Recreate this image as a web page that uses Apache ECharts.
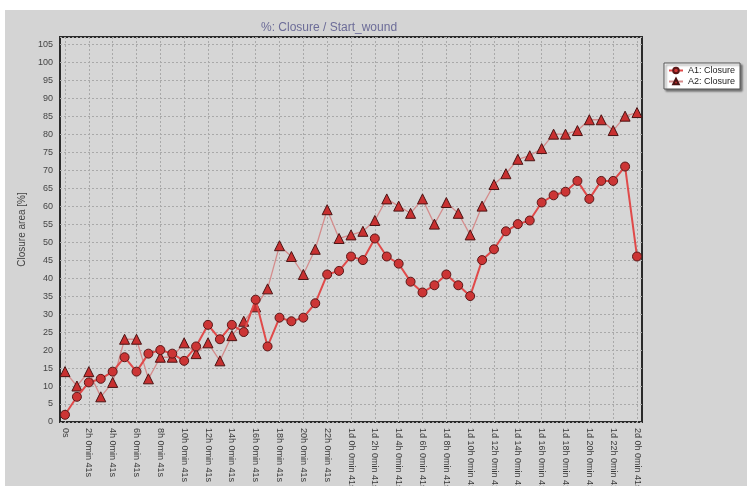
<!DOCTYPE html>
<html>
<head>
<meta charset="utf-8">
<script src="https://cdn.jsdelivr.net/npm/echarts@6/dist/echarts.min.js"></script>
<style>html,body{margin:0;padding:0;background:#fff}#c{width:747px;height:486px}</style>
</head>
<body>
<div id="c"></div>
<script>
const categories = [
  "0s","1h 0min 41s","2h 0min 41s","3h 0min 41s","4h 0min 41s","5h 0min 41s","6h 0min 41s","7h 0min 41s",
  "8h 0min 41s","9h 0min 41s","10h 0min 41s","11h 0min 41s","12h 0min 41s","13h 0min 41s","14h 0min 41s",
  "15h 0min 41s","16h 0min 41s","17h 0min 41s","18h 0min 41s","19h 0min 41s","20h 0min 41s","21h 0min 41s",
  "22h 0min 41s","23h 0min 41s","1d 0h 0min 41s","1d 1h 0min 41s","1d 2h 0min 41s","1d 3h 0min 41s",
  "1d 4h 0min 41s","1d 5h 0min 41s","1d 6h 0min 41s","1d 7h 0min 41s","1d 8h 0min 41s","1d 9h 0min 41s",
  "1d 10h 0min 41s","1d 11h 0min 41s","1d 12h 0min 41s","1d 13h 0min 41s","1d 14h 0min 41s","1d 15h 0min 41s",
  "1d 16h 0min 41s","1d 17h 0min 41s","1d 18h 0min 41s","1d 19h 0min 41s","1d 20h 0min 41s","1d 21h 0min 41s",
  "1d 22h 0min 41s","1d 23h 0min 41s","2d 0h 0min 41s"
];
const seriesA1 = [2,7,11,12,14,18,14,19,20,19,17,21,27,23,27,25,34,21,29,28,29,33,41,42,46,45,51,46,44,39,36,38,41,38,35,45,48,53,55,56,61,63,64,67,62,67,67,71,46];
const seriesA2 = [14,10,14,7,11,23,23,12,18,18,22,19,22,17,24,28,32,37,49,46,41,48,59,51,52,53,56,62,60,58,62,55,61,58,52,60,66,69,73,74,76,80,80,81,84,84,81,85,86];
const seriesNames = ["A1: Closure","A2: Closure"];
const titleText = "%: Closure / Start_wound";
const yAxisName = "Closure area [%]";

const FONT = "Liberation Sans, Arial, sans-serif";
const chart = echarts.init(document.getElementById('c'), null, {renderer:'canvas'});
const gridLine = {show:true, lineStyle:{color:'#a9a9a9', type:[2,2], width:1}};
chart.setOption({
  backgroundColor:'#d4d4d4',
  animation:false,
  textStyle:{fontFamily:FONT},
  graphic:[
    {type:'rect', shape:{x:0,y:0,width:747,height:10}, style:{fill:'#ffffff'}, silent:true},
    {type:'rect', shape:{x:0,y:0,width:5,height:486}, style:{fill:'#ffffff'}, silent:true}
  ],
  title:{
    text:titleText, left:256, top:17,
    textStyle:{fontSize:12, fontWeight:'normal', color:'#6c6c98', fontFamily:FONT}
  },
  legend:{
    orient:'vertical', left:664, top:63,
    data:seriesNames,
    backgroundColor:'#ffffff', borderColor:'#555', borderWidth:1,
    padding:[3,5,3,4], itemGap:2, itemWidth:14, itemHeight:7,
    shadowColor:'rgba(0,0,0,0.45)', shadowOffsetX:2, shadowOffsetY:2, shadowBlur:2,
    textStyle:{fontSize:9, color:'#222', fontFamily:FONT}
  },
  grid:[
    {left:60, top:37, width:582, height:385, show:true, backgroundColor:'#d6d6d6', borderColor:'#2a2a2a', borderWidth:2,
     containLabel:false, outerBoundsMode:'none'},
    {left:65, top:37, width:572, height:385, containLabel:false, outerBoundsMode:'none'}
  ],
  xAxis:[
    {gridIndex:0, type:'value', min:0, max:1, show:false},
    {gridIndex:1, type:'category', data:categories, boundaryGap:false,
     axisLine:{show:false}, axisTick:{show:false},
     axisLabel:{interval:1, rotate:-90, fontSize:9, color:'#3a3a3a', margin:6, fontFamily:FONT},
     splitLine:{show:true, interval:1, lineStyle:{color:'#a9a9a9', type:[2,2], width:1}}}
  ],
  yAxis:[
    {gridIndex:0, type:'value', min:0, max:107, interval:5,
     name:yAxisName, nameLocation:'middle', nameGap:22, nameRotate:90,
     nameTextStyle:{fontSize:10, color:'#444', fontFamily:FONT},
     axisLine:{show:false}, axisTick:{show:false},
     axisLabel:{fontSize:9, color:'#444', margin:7, fontFamily:FONT,
       formatter:function(v){return (v % 5 === 0) ? String(v) : '';}},
     splitLine:gridLine},
    {gridIndex:1, type:'value', min:0, max:107, show:false, splitLine:{show:false}}
  ],
  series:[
    {name:seriesNames[0], type:'line', xAxisIndex:1, yAxisIndex:1, data:seriesA1,
     symbol:'circle', symbolSize:9, showSymbol:true, showAllSymbol:true,
     lineStyle:{color:'#e04a4a', width:2},
     itemStyle:{color:'#cc3535', borderColor:'#5a1818', borderWidth:1}, z:3},
    {name:seriesNames[1], type:'line', xAxisIndex:1, yAxisIndex:1, data:seriesA2,
     symbol:'triangle', symbolSize:10, showSymbol:true, showAllSymbol:true,
     lineStyle:{color:'#d48c8c', width:1.3},
     itemStyle:{color:'#c83030', borderColor:'#4a1414', borderWidth:1}, z:2}
  ]
});
</script>
</body>
</html>
